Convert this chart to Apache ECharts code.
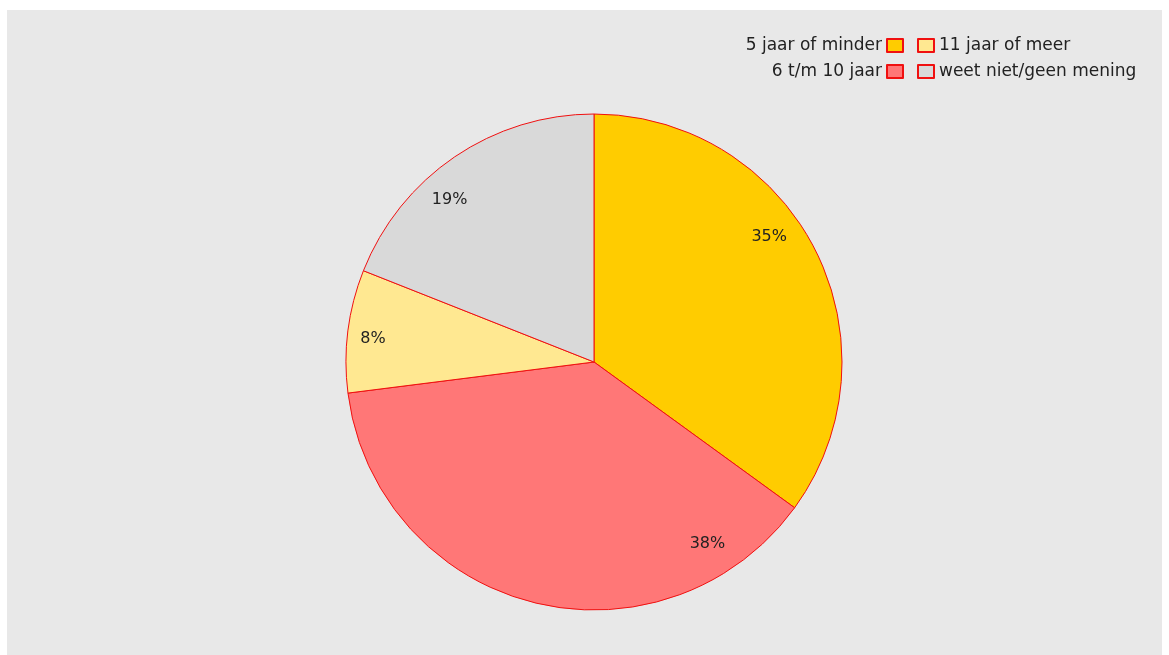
<!DOCTYPE html>
<html>
<head>
<meta charset="utf-8">
<script src="https://cdn.jsdelivr.net/npm/echarts@6/dist/echarts.min.js"></script>
<style>
	html, body {margin: 0; padding: 0; background: #ffffff;}
	#chart {position: absolute; left: 7px; top: 10px; width: 1155px; height: 645px;}
</style>
</head>
<body>
<div id="chart"></div>
<script>
var categories = ["5 jaar of minder", "6 t/m 10 jaar", "11 jaar of meer", "weet niet/geen mening"];
var values = [35, 38, 8, 19];
var colors = ["#ffcc00", "#ff7777", "#ffe891", "#d9d9d9"];
// label nudges away from the default inside spot
var labelOffsets = [[62, -67], [145, 59], [-95, -7], [-73, -57]];

var myChart = echarts.init(document.getElementById("chart"));

var pieData = categories.map(function (name, i) {
	return {
		name: name,
		value: values[i],
		itemStyle: {color: colors[i]},
		label: {offset: labelOffsets[i]}
	};
});

var legendText = {fontFamily: "DejaVu Sans", fontSize: 17, color: "#222"};

var option = {
	backgroundColor: "#e8e8e8",
	animation: false,
	legend: [{
		data: [categories[0], categories[1]],
		orient: "vertical",
		align: "right",
		right: 258,
		top: 27,
		padding: 0,
		itemWidth: 16,
		itemHeight: 13,
		itemGap: 9,
		icon: "rect",
		textStyle: legendText
	}, {
		data: [categories[2], categories[3]],
		orient: "vertical",
		align: "left",
		left: 910,
		top: 27,
		padding: 0,
		itemWidth: 16,
		itemHeight: 13,
		itemGap: 9,
		icon: "rect",
		textStyle: legendText
	}],
	series: [{
		name: "antwoord",
		type: "pie",
		center: [587, 352],
		radius: [0, 248],
		startAngle: 90,
		clockwise: true,
		data: pieData,
		itemStyle: {borderColor: "#f01010", borderWidth: 1},
		label: {
			show: true,
			position: "inside",
			formatter: "{c}%",
			fontFamily: "DejaVu Sans",
			fontSize: 16,
			color: "#222"
		},
		labelLine: {show: false},
		emphasis: {disabled: true}
	}]
};
myChart.setOption(option);
</script>
</body>
</html>
